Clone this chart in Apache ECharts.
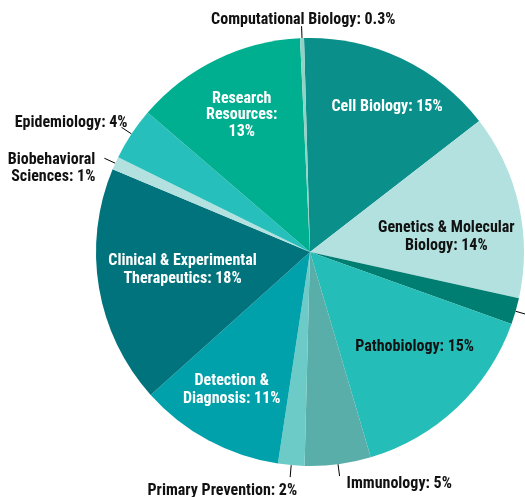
<!DOCTYPE html>
<html>
<head>
<meta charset="utf-8">
<script src="https://cdn.jsdelivr.net/npm/echarts@6/dist/echarts.min.js"></script>
<style>
html,body{margin:0;padding:0;background:#fff;overflow:hidden;width:525px;height:497px;}
#chart{width:720px;height:497px;}
</style>
</head>
<body>
<div id="chart"></div>
<script>
// Data (clockwise from the top)
const categories = [
  'Cell Biology',
  'Genetics & Molecular\nBiology',
  'Other',
  'Pathobiology',
  'Immunology',
  'Primary Prevention',
  'Detection &\nDiagnosis',
  'Clinical & Experimental\nTherapeutics',
  'Biobehavioral\nSciences',
  'Epidemiology',
  'Research\nResources',
  'Computational Biology'
];
const percents = [15, 14, 2, 15, 5, 2, 11, 18, 1, 4, 13, 0.3];

// Styling (kept separate from the data)
const colors = ['#0a8f8b','#b3e1df','#007e72','#25bdb8','#5aaeaa','#6ccbc6',
                '#00a1ab','#00737d','#b3e1df','#27bfbb','#00af8f','#8ed3c6'];
const inside = [true, true, false, true, false, false, true, true, false, false, true, false];
const textColors = ['#fff','#111','#111','#111','#111','#111','#fff','#fff','#111','#111','#fff','#111'];
const separators = [': ', ': ', ': ', ': ', ': ', ': ', ': ', ': ', ': ', ': ', ':\n', ': '];
const lineHeights = [18, 18, 18, 18, 18, 18, 18, 18, 17, 18, 16.5, 18];
const labelShift = [
  [30,-46],[29,9],[0,0],[29,15],[2,8],[12,14],[-26,41],[-19,0],[-4,10],[11,-4],[-20,-38],[99,-6]
];

const seriesData = categories.map((c, i) => ({
  name: c,
  value: percents[i],
  itemStyle: { color: colors[i] },
  label: {
    position: inside[i] ? 'inside' : 'outside',
    color: textColors[i],
    lineHeight: lineHeights[i]
  },
  labelLine: { show: !inside[i] }
}));

const chart = echarts.init(document.getElementById('chart'), null, {renderer: 'canvas'});
chart.setOption({
  animation: false,
  series: [{
    type: 'pie',
    center: [310, 252],
    radius: [0, 214],
    startAngle: 91.6,
    clockwise: true,
    avoidLabelOverlap: false,
    minAngle: 0,
    data: seriesData,
    itemStyle: { borderWidth: 0 },
    label: {
      fontFamily: '"Roboto Condensed", "Liberation Sans", Arial, sans-serif',
      fontWeight: 'bold',
      fontSize: 16,
      align: 'center',
      formatter: p => p.name + separators[p.dataIndex] + p.value + '%'
    },
    labelLine: {
      length: 12,
      length2: 0,
      lineStyle: { color: '#000', width: 1 }
    },
    labelLayout: p => ({ dx: labelShift[p.dataIndex][0], dy: labelShift[p.dataIndex][1] })
  }]
});
</script>
</body>
</html>
